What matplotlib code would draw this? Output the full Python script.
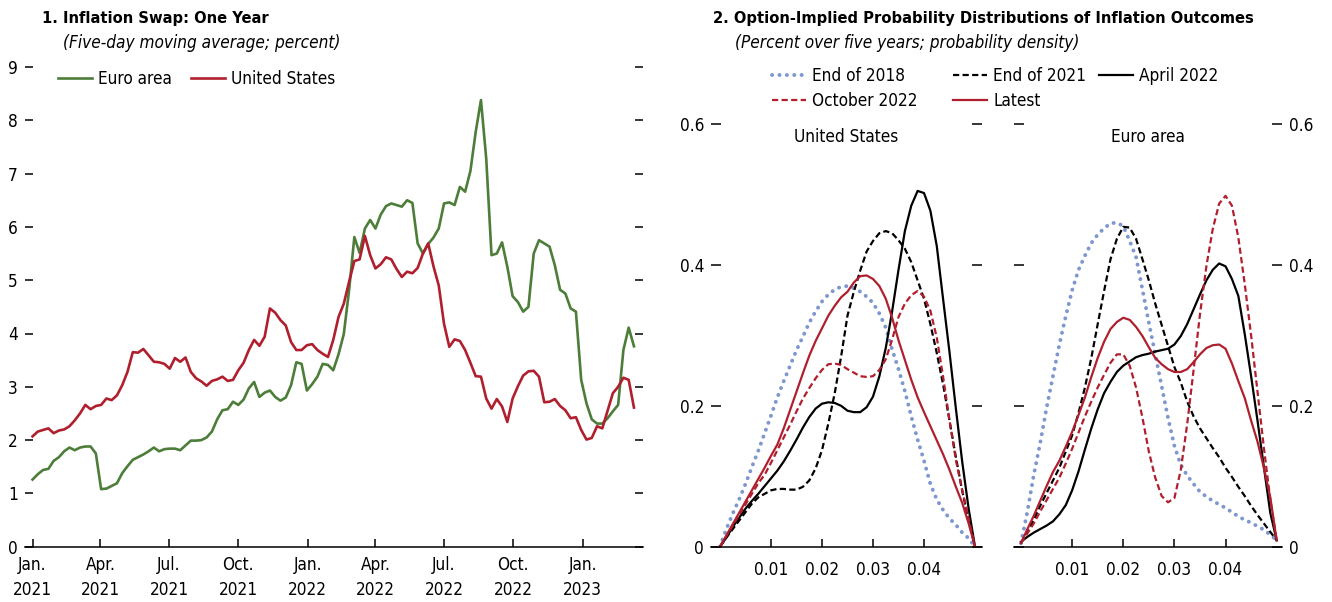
import matplotlib
matplotlib.use("Agg")
import matplotlib.pyplot as plt
import pandas as pd

# condensed DejaVu is the nearest match to the narrow face of the original
plt.rcParams['font.family'] = ['DejaVu Sans']
plt.rcParams['font.stretch'] = 'condensed'

W, H = 1332, 602

# ---- panel 1: one-year inflation swap, weekly readings (percent)
swap_dates = pd.date_range('2021-01-01', periods=115, freq='7D')
euro_area = [1.26, 1.36, 1.44, 1.46, 1.61, 1.68, 1.79, 1.86, 1.81, 1.86,
             1.88, 1.88, 1.75, 1.08, 1.09, 1.14, 1.19, 1.38, 1.51, 1.63,
             1.68, 1.73, 1.79, 1.86, 1.79, 1.83, 1.84, 1.84, 1.81, 1.90,
             1.99, 1.99, 2.00, 2.05, 2.16, 2.39, 2.56, 2.58, 2.72, 2.66,
             2.76, 2.97, 3.09, 2.81, 2.89, 2.93, 2.81, 2.74, 2.80, 3.03,
             3.46, 3.43, 2.93, 3.05, 3.19, 3.43, 3.41, 3.31, 3.61, 3.99,
             4.81, 5.81, 5.51, 5.97, 6.13, 5.97, 6.23, 6.39, 6.44, 6.41,
             6.38, 6.50, 6.45, 5.69, 5.50, 5.68, 5.80, 5.97, 6.44, 6.46,
             6.41, 6.75, 6.66, 7.05, 7.78, 8.38, 7.28, 5.47, 5.50, 5.71,
             5.25, 4.70, 4.59, 4.41, 4.50, 5.50, 5.75, 5.69, 5.63, 5.28,
             4.82, 4.75, 4.47, 4.41, 3.13, 2.69, 2.39, 2.31, 2.31, 2.41,
             2.54, 2.66, 3.69, 4.11, 3.76]
united_states = [2.07, 2.16, 2.19, 2.22, 2.13, 2.18, 2.20, 2.26, 2.37, 2.50,
                 2.66, 2.58, 2.64, 2.66, 2.78, 2.75, 2.84, 3.03, 3.28, 3.65,
                 3.64, 3.71, 3.59, 3.47, 3.46, 3.43, 3.34, 3.54, 3.47, 3.55,
                 3.28, 3.16, 3.10, 3.02, 3.11, 3.14, 3.19, 3.11, 3.13, 3.31,
                 3.45, 3.69, 3.88, 3.77, 3.94, 4.47, 4.39, 4.25, 4.15, 3.84,
                 3.69, 3.69, 3.78, 3.80, 3.69, 3.62, 3.56, 3.88, 4.31, 4.56,
                 4.97, 5.36, 5.39, 5.83, 5.47, 5.22, 5.30, 5.43, 5.39, 5.21,
                 5.06, 5.16, 5.13, 5.23, 5.50, 5.69, 5.26, 4.90, 4.18, 3.75,
                 3.89, 3.86, 3.69, 3.45, 3.20, 3.19, 2.78, 2.59, 2.77, 2.63,
                 2.34, 2.78, 3.01, 3.21, 3.29, 3.30, 3.19, 2.71, 2.72, 2.77,
                 2.64, 2.56, 2.41, 2.43, 2.19, 2.01, 2.04, 2.26, 2.22, 2.55,
                 2.88, 3.00, 3.17, 3.13, 2.61]
quarter_ticks = pd.date_range('2021-01-01', '2023-01-01', freq='QS')
month_names = {1: 'Jan.', 4: 'Apr.', 7: 'Jul.', 10: 'Oct.'}

# ---- panel 2: option-implied densities (x = inflation over five years)
infl_x = [0.0, 0.00125, 0.0025, 0.00375, 0.005, 0.00625, 0.0075, 0.00875, 0.01, 0.01125,
          0.0125, 0.01375, 0.015, 0.01625, 0.0175, 0.01875, 0.02, 0.02125, 0.0225, 0.02375,
          0.025, 0.02625, 0.0275, 0.02875, 0.03, 0.03125, 0.0325, 0.03375, 0.035, 0.03625,
          0.0375, 0.03875, 0.04, 0.04125, 0.0425, 0.04375, 0.045, 0.04625, 0.0475, 0.04875,
          0.05]

us_end2018 = [0, 0.025, 0.047, 0.067, 0.089, 0.113, 0.136, 0.161, 0.186, 0.212,
              0.235, 0.257, 0.279, 0.298, 0.318, 0.334, 0.348, 0.358, 0.365, 0.369,
              0.370, 0.367, 0.362, 0.355, 0.346, 0.331, 0.311, 0.280, 0.252, 0.221,
              0.185, 0.152, 0.122, 0.089, 0.067, 0.052, 0.040, 0.031, 0.020, 0.012, 0]
us_end2021 = [0, 0.013, 0.025, 0.037, 0.049, 0.061, 0.070, 0.075, 0.080, 0.082,
              0.082, 0.081, 0.081, 0.085, 0.094, 0.111, 0.137, 0.175, 0.218, 0.270,
              0.328, 0.362, 0.392, 0.419, 0.434, 0.445, 0.448, 0.445, 0.435, 0.423,
              0.404, 0.378, 0.352, 0.316, 0.275, 0.230, 0.179, 0.127, 0.079, 0.038, 0]
us_apr2022 = [0, 0.013, 0.028, 0.041, 0.054, 0.065, 0.075, 0.086, 0.097, 0.108,
              0.121, 0.136, 0.152, 0.169, 0.184, 0.196, 0.203, 0.205, 0.204, 0.200,
              0.193, 0.191, 0.191, 0.198, 0.213, 0.242, 0.282, 0.334, 0.393, 0.448,
              0.484, 0.505, 0.502, 0.477, 0.427, 0.351, 0.276, 0.196, 0.120, 0.054, 0]
us_oct2022 = [0, 0.015, 0.030, 0.045, 0.060, 0.075, 0.090, 0.102, 0.119, 0.137,
              0.155, 0.173, 0.192, 0.210, 0.225, 0.239, 0.251, 0.259, 0.260, 0.258,
              0.252, 0.247, 0.242, 0.241, 0.242, 0.251, 0.266, 0.294, 0.326, 0.345,
              0.357, 0.363, 0.355, 0.335, 0.297, 0.241, 0.179, 0.123, 0.080, 0.040, 0]
us_latest = [0, 0.016, 0.032, 0.048, 0.064, 0.080, 0.096, 0.112, 0.129, 0.145,
             0.168, 0.194, 0.220, 0.246, 0.271, 0.292, 0.310, 0.328, 0.342, 0.354,
             0.362, 0.375, 0.384, 0.385, 0.380, 0.370, 0.352, 0.325, 0.293, 0.265,
             0.237, 0.212, 0.191, 0.171, 0.151, 0.131, 0.109, 0.085, 0.062, 0.033, 0]

ea_end2018 = [0.005, 0.050, 0.102, 0.147, 0.197, 0.242, 0.287, 0.327, 0.364, 0.393,
              0.413, 0.431, 0.443, 0.452, 0.459, 0.460, 0.455, 0.434, 0.411, 0.365,
              0.318, 0.273, 0.228, 0.183, 0.143, 0.116, 0.101, 0.089, 0.078, 0.071,
              0.065, 0.060, 0.055, 0.049, 0.043, 0.038, 0.034, 0.029, 0.024, 0.017, 0.009]
ea_end2021 = [0.005, 0.022, 0.038, 0.058, 0.076, 0.094, 0.112, 0.135, 0.158, 0.190,
              0.226, 0.268, 0.316, 0.363, 0.408, 0.437, 0.454, 0.453, 0.437, 0.408,
              0.378, 0.345, 0.315, 0.285, 0.255, 0.233, 0.206, 0.185, 0.168, 0.154,
              0.140, 0.127, 0.112, 0.099, 0.085, 0.072, 0.058, 0.045, 0.033, 0.021, 0.009]
ea_apr2022 = [0.007, 0.014, 0.020, 0.025, 0.030, 0.036, 0.046, 0.059, 0.080, 0.107,
              0.138, 0.168, 0.195, 0.218, 0.234, 0.248, 0.257, 0.263, 0.269, 0.272,
              0.274, 0.277, 0.279, 0.281, 0.287, 0.299, 0.316, 0.337, 0.358, 0.378,
              0.393, 0.402, 0.398, 0.380, 0.356, 0.302, 0.242, 0.179, 0.113, 0.048, 0.009]
ea_oct2022 = [0.005, 0.019, 0.033, 0.050, 0.066, 0.082, 0.098, 0.118, 0.139, 0.162,
              0.185, 0.206, 0.226, 0.244, 0.261, 0.273, 0.273, 0.257, 0.226, 0.183,
              0.135, 0.098, 0.072, 0.063, 0.069, 0.109, 0.174, 0.251, 0.330, 0.398,
              0.451, 0.487, 0.498, 0.484, 0.439, 0.373, 0.300, 0.220, 0.140, 0.067, 0.009]
ea_latest = [0.005, 0.025, 0.044, 0.065, 0.086, 0.106, 0.122, 0.142, 0.163, 0.187,
             0.212, 0.241, 0.268, 0.291, 0.309, 0.319, 0.325, 0.322, 0.312, 0.299,
             0.283, 0.268, 0.259, 0.252, 0.248, 0.248, 0.252, 0.262, 0.273, 0.282,
             0.286, 0.287, 0.281, 0.260, 0.235, 0.211, 0.179, 0.149, 0.112, 0.070, 0.009]

series_names = ['End of 2018', 'End of 2021', 'April 2022', 'October 2022', 'Latest']

green = '#4C7D39'
red = '#B01F2E'
blue = '#7F97CF'

FS = 12.3
FS_TITLE = 11.8


def px(x, y):
    # pixel position (from top-left) -> figure fraction
    return x / W, 1 - y / H


fig = plt.figure(figsize=(W / 100, H / 100), dpi=100)

# ------------------------------------------------------------ panel 1
ax1 = fig.add_axes([25 / W, 1 - 546.7 / H, (643 - 25) / W, (546.7 - 67) / H])
ax1.plot(swap_dates, euro_area, color=green, lw=1.9, label='Euro area')
ax1.plot(swap_dates, united_states, color=red, lw=1.9, label='United States')
ax1.set_ylim(0, 9)
ax1.set_xlim(pd.Timestamp('2020-12-22'), pd.Timestamp('2023-03-22'))
ax1.set_yticks(range(0, 10))
ax1.set_xticks(quarter_ticks)
ax1.set_xticklabels([f'{month_names[d.month]}\n{d.year}' for d in quarter_ticks],
                    linespacing=1.45)
ax1.tick_params(axis='y', direction='in', length=6, width=1.1, left=True, right=True,
                labelsize=FS, pad=5)
ax1.tick_params(axis='x', direction='in', length=6, width=1.1, labelsize=FS, pad=7)
for s in ['left', 'right', 'top']:
    ax1.spines[s].set_visible(False)
ax1.spines['bottom'].set_linewidth(1.1)

ax1.legend(loc='center left', bbox_to_anchor=px(58, 79), bbox_transform=fig.transFigure,
           ncol=2, frameon=False, fontsize=FS, handlelength=2.0, handletextpad=0.35,
           columnspacing=1.1, borderpad=0, borderaxespad=0)

fig.text(*px(42, 18), '1. Inflation Swap: One Year', fontsize=FS_TITLE, fontweight='bold',
         va='center')
fig.text(*px(63, 43), '(Five-day moving average; percent)', fontsize=FS, style='italic',
         va='center')

# ------------------------------------------------------------ panel 2
styles = [
    dict(color=blue, lw=2.8, linestyle=(0, (0.05, 1.85)), dash_capstyle='round'),
    dict(color='black', lw=1.6, linestyle=(0, (2.8, 1.5))),
    dict(color='black', lw=1.6, linestyle='-'),
    dict(color=red, lw=1.6, linestyle=(0, (2.8, 1.5))),
    dict(color=red, lw=1.6, linestyle='-'),
]
panels = [
    ('United States', (711, 982), (-0.00176, 0.05137),
     [us_end2018, us_end2021, us_apr2022, us_oct2022, us_latest], 'left'),
    ('Euro area', (1014, 1282), (-0.00137, 0.05104),
     [ea_end2018, ea_end2021, ea_apr2022, ea_oct2022, ea_latest], 'right'),
]

for name, (xl, xr), lims, curves, side in panels:
    ax = fig.add_axes([xl / W, 1 - 546.7 / H, (xr - xl) / W, (546.7 - 124) / H])
    for ys, st in zip(curves, styles):
        ax.plot(infl_x, ys, **st)
    ax.set_xlim(*lims)
    ax.set_ylim(0, 0.6)
    ax.set_xticks([0.01, 0.02, 0.03, 0.04])
    ax.set_xticklabels(['0.01', '0.02', '0.03', '0.04'])
    ax.set_yticks([0, 0.2, 0.4, 0.6])
    ax.set_yticklabels(['0', '0.2', '0.4', '0.6'])
    ax.tick_params(axis='y', direction='in', length=7, width=1.1, left=True, right=True,
                   labelleft=(side == 'left'), labelright=(side == 'right'),
                   labelsize=FS, pad=5)
    ax.tick_params(axis='x', direction='in', length=6, width=1.1, labelsize=FS, pad=10)
    for s in ['left', 'right', 'top']:
        ax.spines[s].set_visible(False)
    ax.spines['bottom'].set_linewidth(1.1)
    fig.text((xl + xr) / 2 / W, 1 - 137 / H, name, fontsize=FS, ha='center', va='center')

fig.text(*px(713, 18), '2. Option-Implied Probability Distributions of Inflation Outcomes',
         fontsize=FS_TITLE, fontweight='bold', va='center')
fig.text(*px(735, 43), '(Percent over five years; probability density)',
         fontsize=FS, style='italic', va='center')

# legend laid out as three separate columns
handles = [plt.Line2D([], [], **st) for st in styles]
columns = [(772, [0, 3]), (953, [1, 4]), (1099, [2])]
for xpos, idx in columns:
    fig.legend([handles[i] for i in idx], [series_names[i] for i in idx],
               loc='upper left', bbox_to_anchor=px(xpos, 67), frameon=False, fontsize=FS,
               handlelength=2.0, handletextpad=0.35, labelspacing=0.42, borderpad=0,
               borderaxespad=0)

fig.savefig('out.png', dpi=100)
